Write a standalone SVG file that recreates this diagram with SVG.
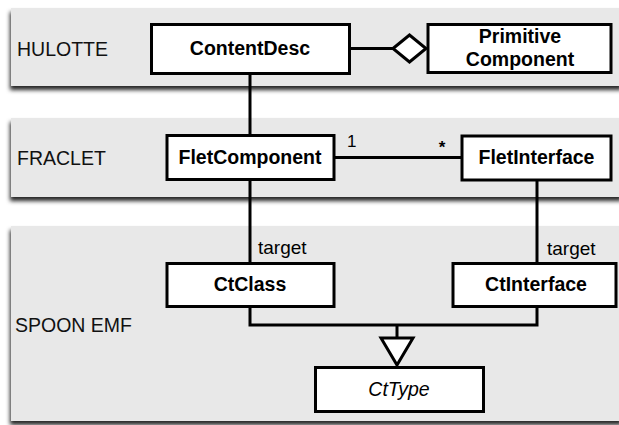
<svg xmlns="http://www.w3.org/2000/svg" width="619" height="425" viewBox="0 0 619 425">
<defs>
<filter id="sh" x="-5%" y="-10%" width="115%" height="130%">
<feDropShadow dx="-1" dy="4" stdDeviation="2.2" flood-color="#000" flood-opacity="0.85"/>
</filter>
</defs>
<style>
.lane{fill:#e8e8e8;filter:url(#sh)}
.lt{font-family:"Liberation Sans",Arial,sans-serif;font-size:19.5px;fill:#111}
.box{fill:#fff;stroke:#000;stroke-width:3}
.nt{font-family:"Liberation Sans",Arial,sans-serif;font-size:19.5px;font-weight:bold;fill:#000;text-anchor:middle}
.it{font-family:"Liberation Sans",Arial,sans-serif;font-size:19.5px;font-style:italic;fill:#000;text-anchor:middle}
.ln{fill:none;stroke:#000;stroke-width:3}
.head{fill:#fff;stroke:#000;stroke-width:3;stroke-linejoin:miter}
.lb{font-family:"Liberation Sans",Arial,sans-serif;font-size:19px;fill:#000}
.mul{font-family:"Liberation Sans",Arial,sans-serif;font-size:17px;fill:#000}
</style>
<rect width="619" height="425" fill="#fff"/>
<g id="lanes">
<g id="lane-hulotte"><rect class="lane" x="11" y="8" width="612" height="78"/><text class="lt" x="17" y="56">HULOTTE</text></g>
<g id="lane-fraclet"><rect class="lane" x="11" y="118" width="612" height="79"/><text class="lt" x="17" y="165">FRACLET</text></g>
<g id="lane-spoon"><rect class="lane" x="11" y="226" width="612" height="195"/><text class="lt" x="15" y="332">SPOON EMF</text></g>
</g>
<g id="connectors">
<line class="ln" x1="350" y1="48.5" x2="393" y2="48.5"/>
<polygon class="head" points="393,48.5 409.5,35 426,48.5 409.5,62"/>
<line class="ln" x1="250" y1="74" x2="250" y2="135"/>
<line class="ln" x1="334" y1="157.5" x2="462" y2="157.5"/>
<text class="mul" x="347" y="146.5">1</text>
<text class="mul" x="442" y="153" text-anchor="middle" font-weight="bold">*</text>
<line class="ln" x1="250" y1="179" x2="250" y2="263"/>
<text class="lb" x="258" y="254">target</text>
<line class="ln" x1="537" y1="180" x2="537" y2="263"/>
<text class="lb" x="547" y="255">target</text>
<path class="ln" d="M250,306 V325 H537 V306 M397,325 V338"/>
<polygon class="head" points="381,338 413,338 397,365"/>
</g>
<g id="ContentDesc"><rect class="box" x="151.5" y="24.5" width="198" height="49"/><text class="nt" x="250" y="55">ContentDesc</text></g>
<g id="PrimitiveComponent"><rect class="box" x="428" y="24.5" width="183" height="48"/><text class="nt" x="520" y="43.3">Primitive</text><text class="nt" x="520" y="65.7">Component</text></g>
<g id="FletComponent"><rect class="box" x="167" y="135.5" width="167" height="44"/><text class="nt" x="250" y="163.5">FletComponent</text></g>
<g id="FletInterface"><rect class="box" x="462" y="136" width="149" height="44"/><text class="nt" x="536.5" y="164">FletInterface</text></g>
<g id="CtClass"><rect class="box" x="167" y="263.5" width="167" height="43"/><text class="nt" x="250" y="291">CtClass</text></g>
<g id="CtInterface"><rect class="box" x="453" y="263.5" width="163" height="43"/><text class="nt" x="536" y="291">CtInterface</text></g>
<g id="CtType"><rect class="box" x="315.5" y="367.5" width="168" height="44"/><text class="it" x="399" y="396">CtType</text></g>
</svg>
